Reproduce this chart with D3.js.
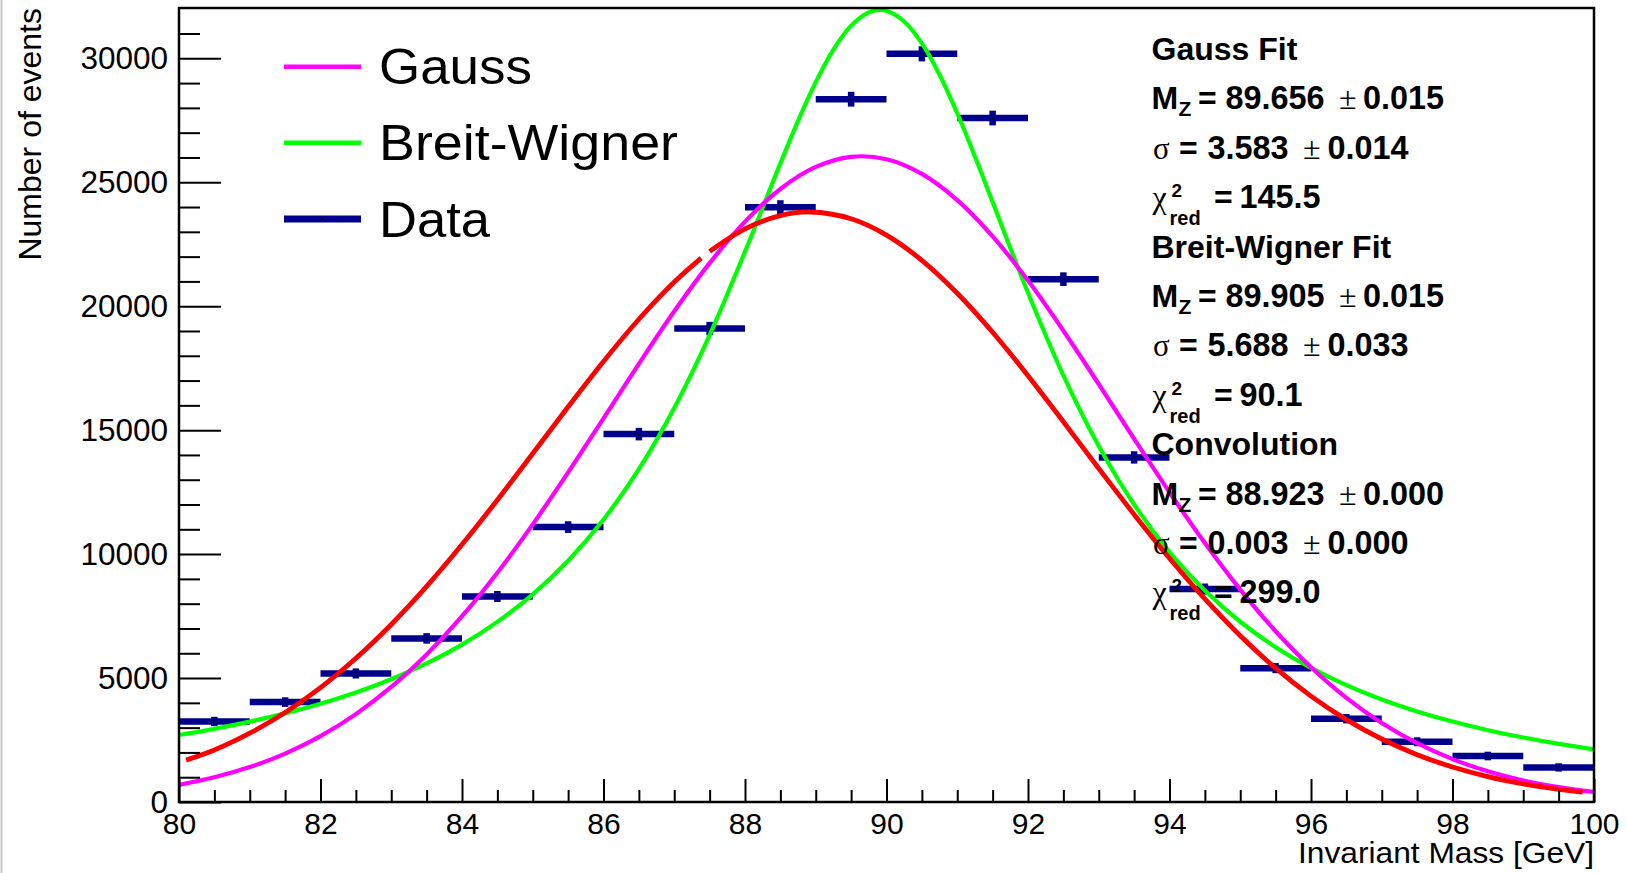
<!DOCTYPE html>
<html><head><meta charset="utf-8">
<script src="https://cdn.jsdelivr.net/npm/d3@7"></script>
<style>body{margin:0;background:#fff;} svg{display:block;}</style>
</head><body>
<svg id="c" width="1627" height="873"></svg>
<script>
// ---------------- data ----------------
const binCenters = [80.5,81.5,82.5,83.5,84.5,85.5,86.5,87.5,88.5,89.5,90.5,91.5,92.5,93.5,94.5,95.5,96.5,97.5,98.5,99.5];
const dataCounts = [3250,4030,5185,6600,8290,11090,14840,19100,23990,28350,30180,27590,21090,13900,8590,5400,3360,2430,1855,1395];
const dataErrors = [57,63,72,81,91,105,122,138,155,168,174,166,145,118,93,73,58,49,43,37];

const gaussX = [80,80.5,81,81.5,82,82.5,83,83.5,84,84.5,85,85.5,86,86.5,87,87.5,88,88.5,89,89.5,90,90.5,91,91.5,92,92.5,93,93.5,94,94.5,95,95.5,96,96.5,97,97.5,98,98.5,99,99.5,100];
const gaussY = [690,995,1408,1953,2657,3545,4640,5954,7495,9251,11199,13294,15479,17674,19793,21737,23411,24729,25617,26025,25930,25337,24281,22819,21033,19011,16854,14651,12494,10445,8566,6889,5434,4202,3189,2372,1731,1238,869,598,404];

const bwX = [80,80.5,81,81.5,82,82.5,83,83.5,84,84.5,85,85.5,86,86.5,87,87.5,88,88.5,88.75,89,89.25,89.5,89.75,89.905,90,90.25,90.5,90.75,91,91.25,91.5,92,92.5,93,93.5,94,94.5,95,95.5,96,96.5,97,97.5,98,98.5,99,99.5,100];
const bwY = [2701,2952,3241,3575,3963,4418,4953,5588,6349,7265,8376,9732,11393,13426,15896,18837,22200,25761,27476,29039,30352,31318,31855,31950,31914,31485,30602,29336,27782,26039,24202,20542,17207,14357,12000,10083,8530,7271,6247,5407,4713,4136,3653,3244,2897,2600,2344,2122];

const convX = [80.1,80.5,81,81.5,82,82.5,83,83.5,84,84.5,85,85.5,86,86.5,87,87.38,87.44,87.5,88,88.5,88.92,89.5,90,90.5,91,91.5,92,92.5,93,93.5,94,94.5,95,95.5,96,96.5,97,97.5,98,98.5,99,99.5,99.84];
const convY = [1690,2097,2774,3608,4612,5797,7162,8698,10384,12186,14058,15942,17772,19473,20976,21942,null,22211,23120,23656,23800,23527,22868,21849,20521,18947,17195,15341,13454,11600,9830,8189,6706,5398,4272,3323,2541,1910,1411,1025,732,514,400];

const xMajorTicks = [80,82,84,86,88,90,92,94,96,98,100];
const yMajorTicks = [0,5000,10000,15000,20000,25000,30000];

const legendLabels = ["Gauss","Breit-Wigner","Data"];
const fitNames = ["Gauss Fit","Breit-Wigner Fit","Convolution"];
const fitMass = ["89.656","89.905","88.923"];
const fitMassErr = ["0.015","0.015","0.000"];
const fitSigma = ["3.583","5.688","0.003"];
const fitSigmaErr = ["0.014","0.033","0.000"];
const fitChi2 = ["145.5","90.1","299.0"];

// ---------------- layout ----------------
const SANS = "'Liberation Sans', Arial, Helvetica, sans-serif";
const SERIF = "'Liberation Serif', 'Times New Roman', serif";
const cGauss = "#ff00ff", cBW = "#00ff00", cConv = "#ff0000", cData = "#00008c";

const svg = d3.select("#c");
svg.append("rect").attr("width",1627).attr("height",873).attr("fill","#fff");
svg.append("line").attr("x1",1.5).attr("x2",1.5).attr("y1",0).attr("y2",873)
   .attr("stroke","#c8c8c8").attr("stroke-width",2);

const L=179, R=1594, T=8, B=802;
const x = d3.scaleLinear().domain([80,100]).range([L,R]);
const y = d3.scaleLinear().domain([0,32029]).range([B,T]);

svg.append("clipPath").attr("id","clip").append("rect")
  .attr("x",L).attr("y",T).attr("width",R-L).attr("height",B-T);

const plot = svg.append("g").attr("clip-path","url(#clip)");

// data points
const pts = binCenters.map((c,i)=>({c, v:dataCounts[i], e:dataErrors[i]}));
const dg = plot.append("g");
dg.selectAll("line.h").data(pts).join("line").attr("class","h")
  .attr("x1",d=>x(d.c-0.5)).attr("x2",d=>x(d.c+0.5))
  .attr("y1",d=>y(d.v)).attr("y2",d=>y(d.v))
  .attr("stroke",cData).attr("stroke-width",6.5);
dg.selectAll("line.v").data(pts).join("line").attr("class","v")
  .attr("x1",d=>x(d.c)).attr("x2",d=>x(d.c))
  .attr("y1",d=>y(d.v-d.e)).attr("y2",d=>y(d.v+d.e))
  .attr("stroke",cData).attr("stroke-width",6.5).attr("stroke-linecap","square");
dg.selectAll("rect.m").data(pts).join("rect").attr("class","m")
  .attr("x",d=>x(d.c)-1).attr("y",d=>y(d.v)-1).attr("width",2).attr("height",2).attr("fill","#000");

// curves
const line = d3.line().defined(d=>d[1]!=null).x(d=>x(d[0])).y(d=>y(d[1])).curve(d3.curveCatmullRom.alpha(0.5));
plot.append("path").datum(bwX.map((v,i)=>[v,bwY[i]])).attr("d",line)
  .attr("fill","none").attr("stroke",cBW).attr("stroke-width",4.2);
plot.append("path").datum(gaussX.map((v,i)=>[v,gaussY[i]])).attr("d",line)
  .attr("fill","none").attr("stroke",cGauss).attr("stroke-width",4.2);
plot.append("path").datum(convX.map((v,i)=>[v,convY[i]])).attr("d",line)
  .attr("fill","none").attr("stroke",cConv).attr("stroke-width",4.8);

// axes
function styleAxis(g){
  g.select(".domain").remove();
  g.selectAll(".tick line").attr("stroke","#000").attr("stroke-width",2);
  g.attr("font-family",SANS);
}
const xMinor = d3.range(80,100.01,0.5).filter(v=>!xMajorTicks.includes(v));
const gxm = svg.append("g").attr("transform",`translate(0,${B})`)
  .call(d3.axisBottom(x).tickValues(xMinor).tickSize(-12).tickFormat(""));
styleAxis(gxm);
const gx = svg.append("g").attr("transform",`translate(0,${B})`)
  .call(d3.axisBottom(x).tickValues(xMajorTicks).tickSize(-23).tickPadding(11).tickFormat(d3.format("d")));
styleAxis(gx);
gx.selectAll("text").attr("font-size",30).attr("fill","#000");

const yMinor = d3.range(0,32000,1000).filter(v=>!yMajorTicks.includes(v));
const gym = svg.append("g").attr("transform",`translate(${L},0)`)
  .call(d3.axisLeft(y).tickValues(yMinor).tickSize(-21).tickFormat(""));
styleAxis(gym);
const gy = svg.append("g").attr("transform",`translate(${L},0)`)
  .call(d3.axisLeft(y).tickValues(yMajorTicks).tickSize(-42).tickPadding(11).tickFormat(d3.format("d")));
styleAxis(gy);
gy.selectAll("text").attr("font-size",31.5).attr("fill","#000");

// frame
svg.append("rect").attr("x",L).attr("y",T).attr("width",R-L).attr("height",B-T)
  .attr("fill","none").attr("stroke","#000").attr("stroke-width",2.5);

// axis titles
svg.append("text").attr("x",R-296).attr("y",863)
  .attr("textLength",296).attr("lengthAdjust","spacingAndGlyphs")
  .attr("font-family",SANS).attr("font-size",29).text("Invariant Mass [GeV]");
svg.append("text").attr("transform","translate(41,8) rotate(-90)").attr("text-anchor","end")
  .attr("font-family",SANS).attr("font-size",32).text("Number of events");

// legend
const legY = [66.7,142.7,219];
const legColors = [cGauss,cBW,cData];
const legW = [4.5,4.5,7];
const legTextW = [153,299,111];
legendLabels.forEach((lab,i)=>{
  svg.append("line").attr("x1",284).attr("x2",361).attr("y1",legY[i]).attr("y2",legY[i])
    .attr("stroke",legColors[i]).attr("stroke-width",legW[i]);
  if(i===2) svg.append("rect").attr("x",321.5).attr("y",legY[i]-1).attr("width",2).attr("height",2).attr("fill","#000");
  svg.append("text").attr("x",379).attr("y",legY[i]+17.5).attr("font-family",SANS)
    .attr("textLength",legTextW[i]).attr("lengthAdjust","spacingAndGlyphs")
    .attr("font-size",50).text(lab);
});

// stats text
const st = svg.append("g").attr("fill","#000");
function span(t, txt, xpos, opts){
  const s = t.append("tspan").attr("x",xpos).text(txt)
    .attr("font-family",opts.serif?SERIF:SANS)
    .attr("font-weight",opts.bold?"bold":"normal")
    .attr("font-size",opts.size||32);
  if(opts.dy!==undefined) s.attr("dy",opts.dy);
  return s;
}
fitNames.forEach((name,k)=>{
  const base = 60 + 49.4*(4*k);
  const b = i => base + 49.4*i;
  // header
  st.append("text").attr("x",1151.5).attr("y",b(0)).attr("font-family",SANS)
    .attr("font-weight","bold").attr("font-size",32).text(name);
  // mass line
  let t = st.append("text").attr("y",b(1));
  span(t,"M",1151.5,{bold:true});
  span(t,"Z",1178.5,{bold:true,size:21,dy:7});
  span(t,"=",1198,{bold:true,dy:-7});
  span(t,fitMass[k],1225.5,{bold:true,size:32.4});
  span(t,"\u00B1",1339,{serif:true});
  span(t,fitMassErr[k],1363,{bold:true,size:32.4});
  // sigma line
  t = st.append("text").attr("y",b(2));
  span(t,"\u03C3",1153,{serif:true,size:31});
  span(t,"=",1179,{bold:true});
  span(t,fitSigma[k],1207.5,{bold:true,size:32.4});
  span(t,"\u00B1",1303,{serif:true});
  span(t,fitSigmaErr[k],1327.5,{bold:true,size:32.4});
  // chi2 line
  t = st.append("text").attr("y",b(3));
  span(t,"\u03C7",1152.5,{serif:true,size:32});
  span(t,"2",1171.5,{bold:true,size:19,dy:-11});
  span(t,"red",1169.5,{bold:true,size:20,dy:28});
  span(t,"=",1214,{bold:true,dy:-17});
  span(t,fitChi2[k],1239.5,{bold:true,size:32.4});
});
</script>
</body></html>
